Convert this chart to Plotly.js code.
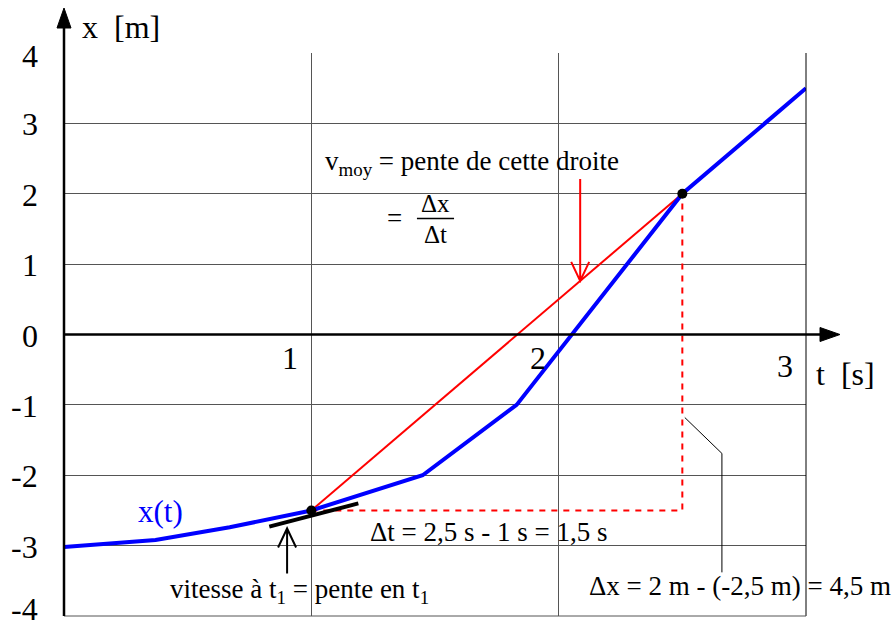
<!DOCTYPE html>
<html>
<head>
<meta charset="utf-8">
<script src="https://cdn.plot.ly/plotly-3.0.1.min.js"></script>
<style>
  html, body { margin: 0; padding: 0; background: #fff; }
  #chart { width: 892px; height: 628px; }
</style>
</head>
<body>
<div id="chart"></div>
<script>
// Position x(t) of the moving body, read at the polyline's corners
const tCurve = [0, 0.37, 0.67, 1, 1.45, 1.83, 2.5, 3];
const xCurve = [-3.02, -2.92, -2.74, -2.5, -2.0, -1.0, 2.0, 3.5];

// The two instants t1, t2 used for the mean velocity
const tPoints = [1, 2.5];
const xPoints = [-2.5, 2];

// Short tangent segment drawn at t1
const tTangent = [0.83, 1.19];
const xTangent = [-2.73, -2.40];

// Axis ticks
const yTickVals = [-4, -3, -2, -1, 0, 1, 2, 3, 4];
const yTickText = ['-4', '-3', '-2', '-1', '0', '1', '2', '3', '4'];
const tTickVals = [1, 2, 3];
const tTickText = ['1', '2', '3'];

const SERIF = 'Liberation Serif';
const BLUE = '#0000ff';
const RED = '#ff0000';
const GRID = '#555555';

const traces = [
  { // Δt / Δx construction
    x: [tPoints[0], tPoints[1], tPoints[1]],
    y: [xPoints[0], xPoints[0], xPoints[1]],
    mode: 'lines',
    line: { color: RED, width: 2, dash: '6px,6px' },
    hoverinfo: 'skip'
  },
  { // secant: slope = mean velocity
    x: tPoints, y: xPoints,
    mode: 'lines',
    line: { color: RED, width: 2 },
    hoverinfo: 'skip'
  },
  { // x(t)
    x: tCurve, y: xCurve,
    mode: 'lines',
    line: { color: BLUE, width: 4 },
    hoverinfo: 'skip'
  },
  { // tangent at t1
    x: tTangent, y: xTangent,
    mode: 'lines',
    line: { color: '#000', width: 4 },
    hoverinfo: 'skip'
  },
  { // t1 and t2 points
    x: tPoints, y: xPoints,
    mode: 'markers',
    marker: { color: '#000', size: 10 },
    hoverinfo: 'skip'
  }
];

const textFont = { family: SERIF, size: 27, color: '#000' };
const fracFont = { family: SERIF, size: 25, color: '#000' };
const bigFont = { family: SERIF, size: 32, color: '#000' };

const annotations = [
  // axis titles
  { xref: 'paper', yref: 'paper', x: 0.022, y: 1.046, xanchor: 'left', yanchor: 'middle',
    text: 'x  [m]', showarrow: false, font: bigFont },
  { xref: 'paper', yref: 'paper', x: 1.011, y: 0.43, xanchor: 'left', yanchor: 'middle',
    text: 't  [s]', showarrow: false, font: bigFont },
  // curve label
  { xref: 'x', yref: 'y', x: 0.392, y: -2.51, text: 'x(t)', showarrow: false,
    font: { family: SERIF, size: 31, color: BLUE } },
  // mean velocity
  { xref: 'x', yref: 'y', x: 1.047, y: 2.44, xanchor: 'left', yanchor: 'middle',
    text: 'v<sub>moy</sub> = pente de cette droite', showarrow: false, font: textFont },
  { xref: 'x', yref: 'y', x: 1.338, y: 1.66, text: '=', showarrow: false, font: textFont },
  { xref: 'x', yref: 'y', x: 1.50, y: 1.855, text: 'Δx', showarrow: false, font: fracFont },
  { xref: 'x', yref: 'y', x: 1.50, y: 1.425, text: 'Δt', showarrow: false, font: fracFont },
  // Δt and Δx
  { xref: 'x', yref: 'y', x: 1.229, y: -2.80, xanchor: 'left', yanchor: 'middle',
    text: 'Δt = 2,5 s - 1 s = 1,5 s', showarrow: false, font: textFont },
  { xref: 'x', yref: 'y', x: 2.115, y: -3.58, xanchor: 'left', yanchor: 'middle',
    text: 'Δx = 2 m - (-2,5 m) = 4,5 m', showarrow: false, font: textFont },
  // instantaneous velocity
  { xref: 'x', yref: 'y', x: 0.42, y: -3.65, xanchor: 'left', yanchor: 'middle',
    text: 'vitesse à t<sub>1</sub> = pente en t<sub>1</sub>', showarrow: false, font: textFont }
];

// t tick labels sit just left of each vertical line, under the t axis
tTickVals.forEach((t, i) => {
  annotations.push({
    xref: 'x', yref: 'y', x: t, y: 0, xshift: -21, yshift: i === 2 ? -31 : -23,
    text: tTickText[i], showarrow: false, font: bigFont
  });
});
// x tick labels, right-aligned left of the x axis
yTickVals.forEach((v, i) => {
  annotations.push({
    xref: 'paper', yref: 'y', x: 0, y: v, xanchor: 'right', xshift: -24,
    yshift: v === -4 ? 7 : (v === 4 ? -3 : -1),
    text: yTickText[i], showarrow: false, font: bigFont
  });
});

const shapes = [
  // right and bottom borders
  { type: 'line', xref: 'paper', yref: 'paper', x0: 1, x1: 1, y0: 0, y1: 1,
    line: { color: '#000', width: 1 } },
  { type: 'line', xref: 'paper', yref: 'paper', x0: 0, x1: 1, y0: 0, y1: 0,
    line: { color: GRID, width: 1 } },
  // t axis with its arrowhead
  { type: 'line', xref: 'paper', yref: 'y', x0: 0, x1: 1.02, y0: 0, y1: 0,
    line: { color: '#000', width: 2.5 } },
  { type: 'path', xref: 'paper', yref: 'y', xsizemode: 'pixel', ysizemode: 'pixel',
    xanchor: 1, yanchor: 0, path: 'M14,7 L34,0 L14,-7 Z',
    fillcolor: '#000', line: { color: '#000', width: 1 } },
  // x axis with its arrowhead
  { type: 'line', xref: 'paper', yref: 'paper', x0: 0, x1: 0, y0: 0, y1: 1.045,
    line: { color: '#000', width: 2.5 } },
  { type: 'path', xref: 'paper', yref: 'paper', xsizemode: 'pixel', ysizemode: 'pixel',
    xanchor: 0, yanchor: 1, path: 'M-7,25 L0,45 L7,25 Z',
    fillcolor: '#000', line: { color: '#000', width: 1 } },
  // fraction bar of Δx / Δt
  { type: 'line', xref: 'x', yref: 'y', x0: 1.427, x1: 1.577, y0: 1.65, y1: 1.65,
    line: { color: '#000', width: 1.5 } },
  // red arrow pointing at the secant
  { type: 'path', xref: 'x', yref: 'y', xsizemode: 'pixel', ysizemode: 'pixel',
    xanchor: 2.087, yanchor: 0.761, path: 'M0,0 L0,102 M-9,19 L0,0 L9,19',
    line: { color: RED, width: 2 } },
  // black arrow pointing at the tangent
  { type: 'path', xref: 'x', yref: 'y', xsizemode: 'pixel', ysizemode: 'pixel',
    xanchor: 0.902, yanchor: -2.756, path: 'M0,0 L0,-45 M-9,-19 L0,0 L9,-19',
    line: { color: '#000', width: 2 } },
  // leader line to the Δx label
  { type: 'path', xref: 'x', yref: 'y', path: 'M2.51,-1.18 L2.66,-1.69 L2.66,-3.38',
    line: { color: '#000', width: 1 } }
];

const layout = {
  width: 892, height: 628,
  margin: { l: 64, r: 86, t: 53, b: 12 },
  paper_bgcolor: '#fff', plot_bgcolor: '#fff',
  showlegend: false,
  xaxis: {
    range: [0, 3], tickvals: tTickVals, showticklabels: false, ticks: '',
    showgrid: true, gridcolor: GRID, gridwidth: 1, zeroline: false, showline: false,
    fixedrange: true
  },
  yaxis: {
    range: [-4, 4], tickvals: yTickVals, showticklabels: false, ticks: '',
    showgrid: true, gridcolor: GRID, gridwidth: 1, zeroline: false, showline: false,
    fixedrange: true
  },
  annotations: annotations,
  shapes: shapes
};

Plotly.newPlot('chart', traces, layout, { displayModeBar: false, staticPlot: true });
</script>
</body>
</html>
